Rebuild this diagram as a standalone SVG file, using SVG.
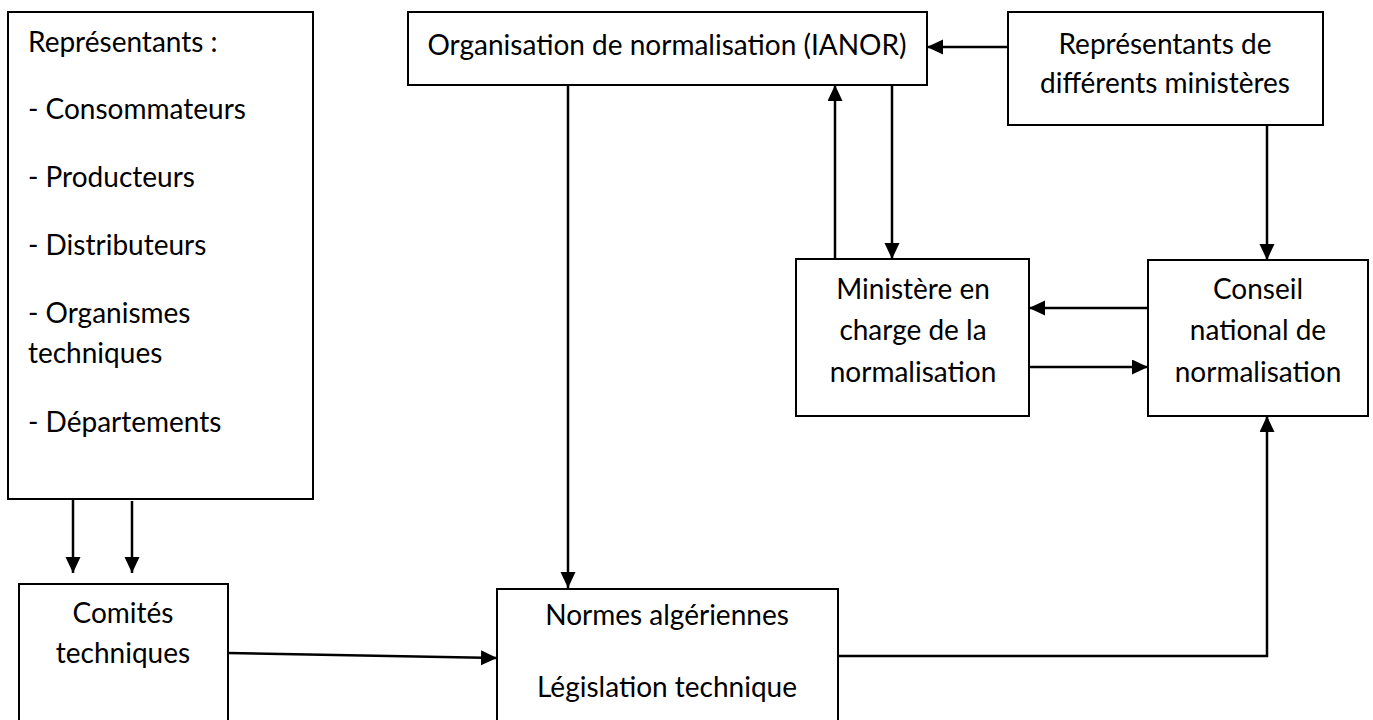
<svg xmlns="http://www.w3.org/2000/svg" width="1373" height="720" viewBox="0 0 1373 720">
<style>
.box{fill:#fff;stroke:#000;stroke-width:2}
.t{font-family:Lato,"Liberation Sans",Arial,sans-serif;font-size:28px;fill:#000}
.c{text-anchor:middle}
.ln{fill:none;stroke:#000;stroke-width:2.5}
</style>
<defs>
<marker id="ah" markerUnits="userSpaceOnUse" markerWidth="18" markerHeight="16" refX="16" refY="7.5" orient="auto">
<path d="M0,0 L16,7.5 L0,15 z" fill="#000"/>
</marker>
</defs>
<rect width="1373" height="720" fill="#fff"/>
<g id="representants">
<rect class="box" x="8" y="12" width="305" height="487"/>
<text class="t" x="28" y="52">Représentants :</text>
<text class="t" x="28" y="119">- Consommateurs</text>
<text class="t" x="28" y="187">- Producteurs</text>
<text class="t" x="28" y="255">- Distributeurs</text>
<text class="t" x="28" y="323">- Organismes</text>
<text class="t" x="28" y="363">techniques</text>
<text class="t" x="28" y="432">- Départements</text>
</g>
<g id="ianor">
<rect class="box" x="408" y="12" width="519" height="73"/>
<text class="t c" x="667" y="55">Organisation de normalisation (IANOR)</text>
</g>
<g id="ministeres">
<rect class="box" x="1008" y="12" width="315" height="113"/>
<text class="t c" x="1165" y="54">Représentants de</text>
<text class="t c" x="1165" y="93">différents ministères</text>
</g>
<g id="ministere">
<rect class="box" x="796" y="259" width="233" height="157"/>
<text class="t c" x="913" y="299">Ministère en</text>
<text class="t c" x="913" y="340">charge de la</text>
<text class="t c" x="913" y="382">normalisation</text>
</g>
<g id="conseil">
<rect class="box" x="1148" y="260" width="220" height="156"/>
<text class="t c" x="1258" y="299">Conseil</text>
<text class="t c" x="1258" y="340">national de</text>
<text class="t c" x="1258" y="382">normalisation</text>
</g>
<g id="comites">
<rect class="box" x="19" y="584" width="209" height="145"/>
<text class="t c" x="123" y="623">Comités</text>
<text class="t c" x="123" y="663">techniques</text>
</g>
<g id="normes">
<rect class="box" x="497" y="589" width="341" height="140"/>
<text class="t c" x="667" y="625">Normes algériennes</text>
<text class="t c" x="667" y="697">Législation technique</text>
</g>
<g id="connectors">
<line class="ln" x1="1008" y1="47" x2="927" y2="47" marker-end="url(#ah)"/>
<line class="ln" x1="568" y1="85" x2="568" y2="588" marker-end="url(#ah)"/>
<line class="ln" x1="835" y1="259" x2="835" y2="85" marker-end="url(#ah)"/>
<line class="ln" x1="892" y1="85" x2="892" y2="259" marker-end="url(#ah)"/>
<line class="ln" x1="1267" y1="125" x2="1267" y2="260" marker-end="url(#ah)"/>
<line class="ln" x1="1148" y1="308" x2="1029" y2="308" marker-end="url(#ah)"/>
<line class="ln" x1="1029" y1="367" x2="1148" y2="367" marker-end="url(#ah)"/>
<line class="ln" x1="73" y1="499" x2="73" y2="573" marker-end="url(#ah)"/>
<line class="ln" x1="132" y1="501" x2="132" y2="573" marker-end="url(#ah)"/>
<line class="ln" x1="228" y1="653" x2="497" y2="658" marker-end="url(#ah)"/>
<path class="ln" d="M838 656 H1267 V416" marker-end="url(#ah)"/>
</g>
</svg>
